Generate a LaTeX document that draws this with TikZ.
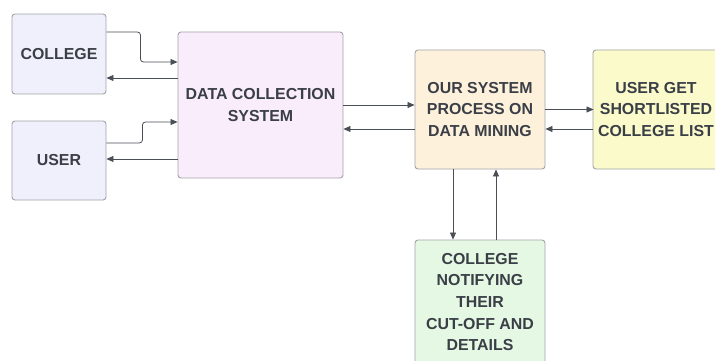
\documentclass[tikz,border=0pt]{standalone}
\usepackage{fontspec}
\setmainfont{Liberation Sans}
\usetikzlibrary{arrows.meta}
\definecolor{edgegray}{HTML}{A3A3A8}
\definecolor{linegray}{HTML}{4A4E56}
\definecolor{txt}{HTML}{3A3E46}
\definecolor{lavender}{HTML}{EFF0FB}
\definecolor{pinkish}{HTML}{FAEDFB}
\definecolor{peach}{HTML}{FEF1DC}
\definecolor{lemon}{HTML}{FBFACB}
\definecolor{mint}{HTML}{E5F8E3}
\begin{document}
\begin{tikzpicture}[x=1pt,y=-1pt,
  box/.style={draw=edgegray, line width=0.9pt, rounded corners=3pt,
    align=center, text=txt, inner sep=0pt,
    font=\fontsize{15.9}{21.6}\selectfont\bfseries},
  arr/.style={draw=linegray, line width=0.8pt,
    -{Stealth[length=7pt,width=6pt,inset=0pt]}}]
  \fill[white] (0,0) rectangle (715,361);
  \useasboundingbox (0,0) rectangle (715,361);
  \clip (0,0) rectangle (715,361);

  % blocks
  \node[box, fill=lavender, minimum width=94pt, minimum height=80pt] (college) at (59,54) {COLLEGE};
  \node[box, fill=lavender, minimum width=94pt, minimum height=79pt] (user) at (59,160.5) {USER};
  \node[box, fill=pinkish, minimum width=165pt, minimum height=146pt] (dcs) at (260.5,105) {DATA COLLECTION\\SYSTEM};
  \node[box, fill=peach, minimum width=130pt, minimum height=119pt] (mining) at (480,109.5) {OUR SYSTEM\\PROCESS ON\\DATA MINING};
  \node[box, fill=lemon, minimum width=126pt, minimum height=119pt] (shortlist) at (656,109.5) {USER GET\\SHORTLISTED\\COLLEGE LIST};
  \node[box, fill=mint, minimum width=130pt, minimum height=124pt] (notify) at (480,302) {COLLEGE\\NOTIFYING\\THEIR\\CUT-OFF AND\\DETAILS};

  % connectors
  \draw[arr, rounded corners=3pt] ([yshift=22pt]college.east) -- ++(34,0) |- ([yshift=43pt]dcs.west);
  \draw[arr] ([yshift=27pt]dcs.west) -- ([yshift=-24pt]college.east);
  \draw[arr, rounded corners=3pt] ([yshift=17.5pt]user.east) -- ++(36,0) |- ([yshift=-17pt]dcs.west);
  \draw[arr] ([yshift=-54pt]dcs.west) -- ([yshift=1.5pt]user.east);
  \draw[arr] (dcs.east) -- ([yshift=4.5pt]mining.west);
  \draw[arr] ([yshift=-19.5pt]mining.west) -- ([yshift=-24pt]dcs.east);
  \draw[arr] (mining.east) -- ([xshift=1pt]shortlist.west);
  \draw[arr] ([yshift=-19.5pt]shortlist.west) -- ([yshift=-19.5pt]mining.east);
  \draw[arr] ([xshift=-27pt]mining.south) -- ([xshift=-27pt]notify.north);
  \draw[arr] ([xshift=16pt]notify.north) -- ([xshift=16pt]mining.south);
\end{tikzpicture}
\end{document}
